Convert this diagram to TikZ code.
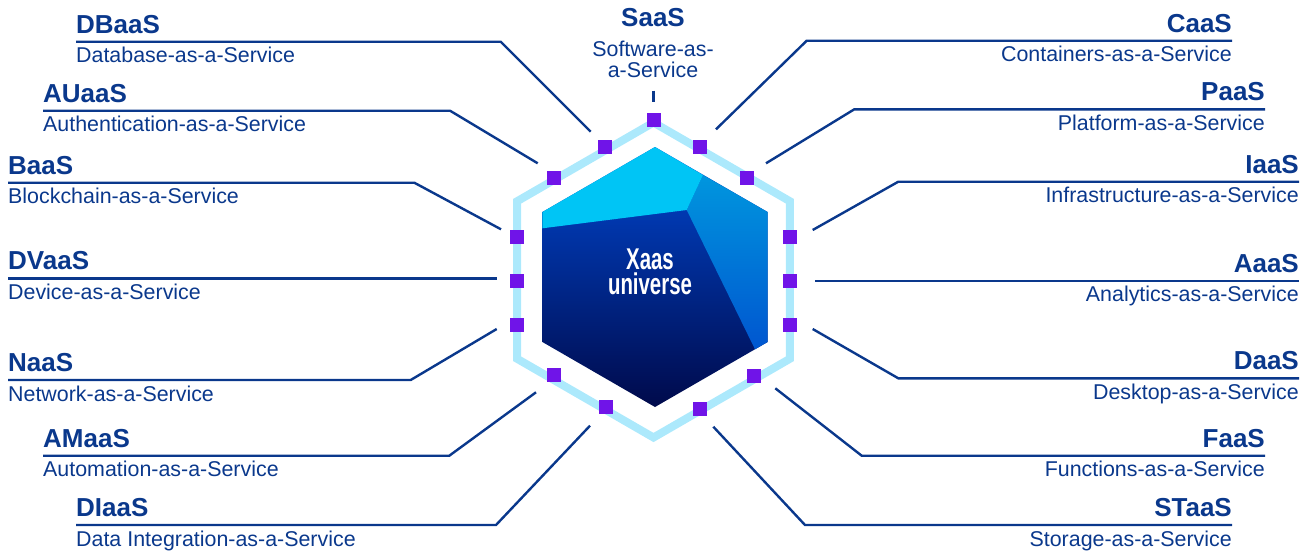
\documentclass[tikz,border=0pt]{standalone}
\usepackage{fontspec}
\setmainfont{Liberation Sans}
\usetikzlibrary{calc}
\definecolor{navy}{RGB}{10,56,140}
\definecolor{ringblue}{RGB}{172,233,252}
\definecolor{sqpurple}{RGB}{112,20,232}
\definecolor{hexcyan}{RGB}{0,197,245}
\definecolor{hexmidA}{RGB}{0,150,222}
\definecolor{hexmidB}{RGB}{0,86,208}
\definecolor{hexdarkA}{RGB}{0,72,210}
\definecolor{hexdarkB}{RGB}{0,44,165}
\definecolor{hexdarkC}{RGB}{0,10,75}
\begin{document}
\begin{tikzpicture}[x=1pt,y=-1pt,
  title/.style={font=\bfseries\fontsize{26}{30}\selectfont, text=navy, inner sep=0pt},
  sub/.style={font=\fontsize{21.4}{25}\selectfont, text=navy, inner sep=0pt},
  conn/.style={draw=navy, line width=2.4pt},
  sqr/.style={fill=sqpurple, minimum size=14pt, inner sep=0pt, draw=none},
  ringline/.style={draw=ringblue, line width=8pt, line join=miter}]
\useasboundingbox (0,0) rectangle (1315,552);

% outer ring
\draw[ringline] (653.5,122.5) -- (789.9,201.25) -- (789.9,358.75) -- (653.5,437.5)
  -- (517.1,358.75) -- (517.1,201.25) -- cycle;

% squares on the ring
\foreach \i/\x/\y in {s0/653.5/120, ul1/605/147, ul2/553.5/178,
  l1/516.7/236.7, l2/516.7/280.7, l3/516.7/325,
  ll1/554/374.5, ll2/606/406.7, lr1/700/409, lr2/754/375.7,
  r1/790/236.7, r2/790/280.7, r3/790/325, ur1/700/147, ur2/746.7/178}
  \node[sqr] (\i) at (\x,\y) {};

% inner hexagon
\shade[top color=hexdarkA, middle color=hexdarkB, bottom color=hexdarkC]
  (655,147) -- (767.6,212) -- (767.6,342) -- (655,407) -- (542.4,342) -- (542.4,212) -- cycle;
\shade[top color=hexmidA, bottom color=hexmidB]
  (703,175) -- (767.6,212) -- (767.6,342) -- (755,349.3) -- (686.7,210) -- cycle;
\fill[hexcyan] (655,147) -- (703,175) -- (686.7,210) -- (542.4,228.3) -- (542.4,212) -- cycle;

\node[text=white, inner sep=0pt, align=center, anchor=center,
  font=\bfseries\fontsize{30}{25}\selectfont] (core) at (650,271.8)
  {\scalebox{0.68}[1]{Xaas}\\\scalebox{0.68}[1]{universe}};

% SaaS at the top
\node[title, anchor=base] (SaaS) at (653,26.7) {SaaS};
\node[sub, anchor=base] (SaaS-d) at (653,56.7) {Software-as-};
\node[sub, anchor=base] (SaaS-d2) at (653,77.3) {a-Service};
\coordinate (SaaS-a) at (653.3,90.5);
\coordinate (SaaS-e) at (653.3,102);
\draw[conn, line width=2.8pt] (SaaS-a) -- (SaaS-e);

% left labels
\foreach \n/\x/\y/\bx/\ex/\ey/\d in {
  DBaaS/76/41.7/500.7/590.7/131.7/Database-as-a-Service,
  AUaaS/43/110.7/450/537.7/163.3/Authentication-as-a-Service,
  BaaS/8/182.7/414.3/501/229.3/Blockchain-as-a-Service,
  DVaaS/8/278.3/496.7/496.7/278.3/Device-as-a-Service,
  NaaS/8/380/410.7/496.7/329/Network-as-a-Service,
  AMaaS/43/455.7/449.3/536/392.3/Automation-as-a-Service,
  DIaaS/76/525/496/590/425.7/Data Integration-as-a-Service}{
  \node[title, anchor=base west] (\n) at (\x,\y-8.5) {\n};
  \node[sub, anchor=base west] (\n-d) at (\x,\y+21) {\d};
  \coordinate (\n-a) at (\x,\y);
  \coordinate (\n-b) at (\bx,\y);
  \coordinate (\n-e) at (\ex,\ey);
  \draw[conn] (\n-a) -- (\n-b) -- (\n-e);
}

% right labels
\foreach \n/\x/\y/\bx/\ex/\ey/\d in {
  CaaS/1232/40.7/806.7/716/129.3/Containers-as-a-Service,
  PaaS/1265/109.3/854.3/766/163.3/Platform-as-a-Service,
  IaaS/1299/181.7/898.3/812.7/230/Infrastructure-as-a-Service,
  AaaS/1299/280.7/815/815/280.7/Analytics-as-a-Service,
  DaaS/1299/378.3/898.3/812.7/329/Desktop-as-a-Service,
  FaaS/1265/455.7/861.7/775.3/388.3/Functions-as-a-Service,
  STaaS/1232/525/805/713.3/426.7/Storage-as-a-Service}{
  \node[title, anchor=base east] (\n) at (\x,\y-8.5) {\n};
  \node[sub, anchor=base east] (\n-d) at (\x,\y+21) {\d};
  \coordinate (\n-a) at (\x,\y);
  \coordinate (\n-b) at (\bx,\y);
  \coordinate (\n-e) at (\ex,\ey);
  \draw[conn] (\n-a) -- (\n-b) -- (\n-e);
}
\end{tikzpicture}
\end{document}
